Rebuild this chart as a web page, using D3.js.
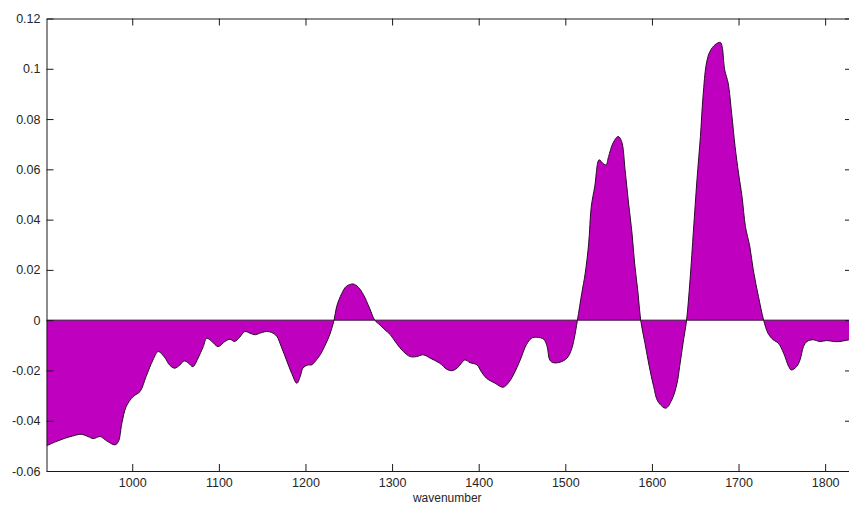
<!DOCTYPE html>
<html>
<head>
<meta charset="utf-8">
<script src="https://cdn.jsdelivr.net/npm/d3@7"></script>
<style>
  html, body { margin: 0; padding: 0; background: #fff; }
  svg { display: block; }
  text { font-family: Arial, "Liberation Sans", Helvetica, sans-serif; }
</style>
</head>
<body>
<svg id="chart" width="849" height="506"></svg>
<script>
// ---- data ----
const wavenumber = [
  901, 912, 922, 932, 941, 949, 955, 963, 970, 980, 984, 988, 993, 1001, 1009, 1016, 1024, 1030,
  1038, 1043, 1049, 1055, 1060, 1065, 1070, 1076, 1082, 1086, 1092, 1099, 1107, 1113, 1118, 1124,
  1130, 1136, 1142, 1147, 1155, 1161, 1167, 1172, 1178, 1184, 1190, 1194, 1197, 1203, 1207, 1211,
  1217, 1222, 1228, 1233, 1236, 1242, 1247, 1255, 1261, 1267, 1274, 1280, 1286, 1292, 1298, 1305,
  1313, 1321, 1328, 1336, 1344, 1355, 1363, 1369, 1375, 1380, 1384, 1390, 1398, 1403, 1409, 1419,
  1428, 1434, 1440, 1448, 1455, 1461, 1467, 1475, 1479, 1482, 1486, 1494, 1502, 1507, 1510, 1514,
  1519, 1523, 1527, 1530, 1534, 1539, 1543, 1547, 1550, 1555, 1561, 1565, 1569, 1573, 1577, 1580,
  1584, 1587, 1592, 1597, 1602, 1607, 1616, 1623, 1629, 1632, 1636, 1640, 1644, 1648, 1652, 1656,
  1659, 1663, 1667, 1673, 1679, 1681, 1684, 1688, 1692, 1696, 1700, 1704, 1708, 1713, 1717, 1723,
  1729, 1734, 1740, 1746, 1752, 1758, 1761, 1767, 1771, 1775, 1779, 1786, 1794, 1802, 1810, 1817,
  1823, 1831
];
const absorbance = [
  -0.0500, -0.0483, -0.0470, -0.0460, -0.0454, -0.0463, -0.0471, -0.0463, -0.0479, -0.0496, -0.0483, -0.0410, -0.0344, -0.0304, -0.0284, -0.0224, -0.0158, -0.0125,
  -0.0151, -0.0178, -0.0191, -0.0178, -0.0162, -0.0171, -0.0185, -0.0151, -0.0105, -0.0072, -0.0085, -0.0105, -0.0085, -0.0076, -0.0085, -0.0068,
  -0.0045, -0.0052, -0.0058, -0.0052, -0.0045, -0.0049, -0.0065, -0.0105, -0.0158, -0.0211, -0.0251, -0.0224, -0.0191, -0.0178, -0.0178, -0.0165,
  -0.0138, -0.0105, -0.0058, 0.0000, 0.0054, 0.0107, 0.0134, 0.0144, 0.0131, 0.0101, 0.0048, 0.0000, -0.0019, -0.0039, -0.0058, -0.0092,
  -0.0125, -0.0145, -0.0145, -0.0138, -0.0151, -0.0171, -0.0195, -0.0201, -0.0191, -0.0171, -0.0158, -0.0169, -0.0178, -0.0205, -0.0231, -0.0251,
  -0.0267, -0.0251, -0.0218, -0.0158, -0.0098, -0.0072, -0.0068, -0.0076, -0.0105, -0.0158, -0.0169, -0.0167, -0.0151, -0.0118, -0.0078, 0.0000,
  0.0107, 0.0187, 0.0306, 0.0452, 0.0532, 0.0638, 0.0625, 0.0618, 0.0651, 0.0704, 0.0731, 0.0711, 0.0598, 0.0466, 0.0346, 0.0227,
  0.0107, 0.0000, -0.0092, -0.0185, -0.0264, -0.0324, -0.0350, -0.0317, -0.0251, -0.0185, -0.0090, 0.0000, 0.0160, 0.0359, 0.0558, 0.0731,
  0.0890, 0.1023, 0.1069, 0.1096, 0.1105, 0.1089, 0.0996, 0.0943, 0.0824, 0.0691, 0.0585, 0.0492, 0.0372, 0.0293, 0.0200, 0.0094,
  0.0000, -0.0052, -0.0078, -0.0092, -0.0131, -0.0185, -0.0198, -0.0185, -0.0158, -0.0105, -0.0085, -0.0078, -0.0085, -0.0081, -0.0085, -0.0085,
  -0.0081, -0.0076
];
const xTickValues = [1000, 1100, 1200, 1300, 1400, 1500, 1600, 1700, 1800];
const xTickLabels = ["1000", "1100", "1200", "1300", "1400", "1500", "1600", "1700", "1800"];
const yTickValues = [-0.06, -0.04, -0.02, 0, 0.02, 0.04, 0.06, 0.08, 0.1, 0.12];
const yTickLabels = ["-0.06", "-0.04", "-0.02", "0", "0.02", "0.04", "0.06", "0.08", "0.1", "0.12"];
const xDomain = [901, 1831];
const yDomain = [-0.06, 0.12];
const xAxisTitle = "wavenumber";

// ---- layout ----
const svg = d3.select("#chart");
const plotLeft = 46.5, plotRight = 852, plotTop = 18.5, plotBottom = 471;

const x = d3.scaleLinear().domain(xDomain).range([plotLeft, plotRight]);
const y = d3.scaleLinear().domain(yDomain).range([plotBottom, plotTop]);

const data = wavenumber.map((w, i) => ({ w, v: absorbance[i] }));

svg.append("defs").append("clipPath").attr("id", "plotclip")
  .append("rect").attr("x", plotLeft).attr("y", plotTop)
  .attr("width", plotRight - plotLeft).attr("height", plotBottom - plotTop);

const plot = svg.append("g").attr("clip-path", "url(#plotclip)");

const curve = d3.curveCatmullRom.alpha(0.5);

const area = d3.area()
  .x(d => x(d.w))
  .y0(y(0))
  .y1(d => y(d.v))
  .curve(curve);

const line = d3.line()
  .x(d => x(d.w))
  .y(d => y(d.v))
  .curve(curve);

plot.append("path")
  .datum(data)
  .attr("d", area)
  .attr("fill", "#BF00BF")
  .attr("stroke", "none");

plot.append("path")
  .datum(data)
  .attr("d", line)
  .attr("fill", "none")
  .attr("stroke", "#2b0a2b")
  .attr("stroke-width", 1);

plot.append("line")
  .attr("x1", x(xDomain[0])).attr("x2", x(xDomain[1]))
  .attr("y1", y(0)).attr("y2", y(0))
  .attr("stroke", "#3a103a")
  .attr("stroke-width", 1);

// ---- axes ----
const tickLen = 7;
function styleAxis(g) {
  g.selectAll("path.domain").attr("stroke", "#1a1a1a").attr("stroke-width", 1);
  g.selectAll(".tick line").attr("stroke", "#1a1a1a").attr("stroke-width", 1);
  g.selectAll(".tick text").attr("fill", "#262626").attr("font-size", "12.5px")
    .attr("font-family", "Arial, 'Liberation Sans', Helvetica, sans-serif");
}

const xAxis = d3.axisBottom(x)
  .tickValues(xTickValues)
  .tickFormat((d, i) => xTickLabels[i])
  .tickSizeInner(-tickLen).tickSizeOuter(0).tickPadding(7);
svg.append("g").attr("transform", `translate(0,${plotBottom})`).call(xAxis).call(styleAxis);

const xAxisTop = d3.axisTop(x)
  .tickValues(xTickValues)
  .tickFormat("")
  .tickSizeInner(-tickLen).tickSizeOuter(0);
svg.append("g").attr("transform", `translate(0,${plotTop})`).call(xAxisTop).call(styleAxis);

const yAxis = d3.axisLeft(y)
  .tickValues(yTickValues)
  .tickFormat((d, i) => yTickLabels[i])
  .tickSizeInner(-tickLen).tickSizeOuter(0).tickPadding(6);
svg.append("g").attr("transform", `translate(${plotLeft},0)`).call(yAxis).call(styleAxis);

const yAxisRight = d3.axisRight(y)
  .tickValues(yTickValues)
  .tickFormat("")
  .tickSizeInner(-tickLen).tickSizeOuter(0);
svg.append("g").attr("transform", `translate(${plotRight},0)`).call(yAxisRight).call(styleAxis);

svg.append("text")
  .attr("x", (plotLeft + plotRight) / 2 - 2)
  .attr("y", 502)
  .attr("text-anchor", "middle")
  .attr("font-size", "12px")
  .attr("fill", "#262626")
  .text(xAxisTitle);
</script>
</body>
</html>
